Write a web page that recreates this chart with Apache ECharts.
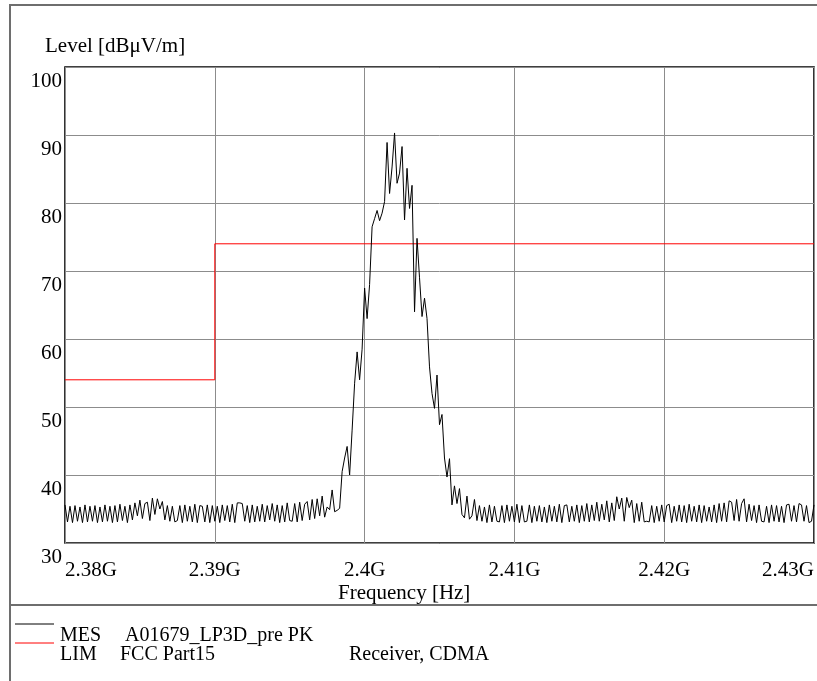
<!DOCTYPE html>
<html>
<head>
<meta charset="utf-8">
<script src="https://cdn.jsdelivr.net/npm/echarts@6/dist/echarts.min.js"></script>
<style>
html,body{margin:0;padding:0;background:#fff;}
#chart{width:817px;height:681px;}
</style>
</head>
<body>
<div id="chart"></div>
<script>
// Frequency grid of the sweep (GHz): start and step between measured points
var freqStartGHz = 2.38;
var freqStepGHz = 0.05 / 300;

// Measured level (dBuV/m), one value per sweep point
var mesLevels = [
  35.6, 33.1, 35.4, 33.0, 35.5, 33.2, 35.3, 33.0, 35.6, 33.1,
  35.4, 33.2, 35.5, 33.0, 35.3, 33.1, 35.6, 33.2, 35.4, 33.0,
  35.5, 33.1, 35.7, 33.3, 35.4, 33.0, 35.6, 33.4, 35.9, 34.0,
  36.3, 33.6, 35.8, 36.0, 33.3, 36.6, 34.2, 36.5, 35.0, 36.1,
  33.4, 35.5, 33.2, 35.4, 33.1, 33.3, 35.5, 33.0, 35.6, 33.2,
  35.4, 33.1, 35.7, 33.0, 35.5, 35.4, 33.1, 35.6, 33.0, 35.5,
  33.2, 35.4, 33.0, 35.6, 33.3, 35.5, 33.1, 35.7, 33.0, 35.9,
  35.9, 35.8, 33.2, 35.5, 33.0, 35.6, 33.1, 35.4, 33.2, 35.7,
  33.1, 35.5, 33.4, 35.8, 33.2, 35.6, 33.0, 35.5, 33.1, 35.9,
  33.3, 33.2, 35.8, 33.1, 36.0, 33.3, 35.7, 36.1, 33.4, 36.4,
  33.6, 36.5, 34.0, 36.9, 33.8,
  35.3, 34.9, 37.8, 34.6, 34.8, 35.1, 40.5, 42.5, 44.2, 40.0,
  46.6, 53.5, 58.1, 54.0, 58.5, 67.5, 63.0, 68.0, 76.5, 77.7,
  78.9, 77.4, 78.5, 80.2, 88.9, 81.4, 85.3, 90.3, 82.9, 84.4,
  88.3, 77.5, 85.1, 79.2, 82.6, 64.0, 74.8, 69.0, 63.3, 66.0,
  63.0, 55.9, 52.0, 49.8, 54.7, 47.4, 48.9, 42.5, 39.7, 42.4,
  35.6, 38.4, 35.8, 38.0, 34.2, 33.7, 36.9, 33.5, 34.0, 36.4,
  33.3,
  35.5, 33.2, 35.3, 33.0, 35.6, 33.1, 35.4, 33.2, 33.1, 35.5,
  33.0, 35.6, 33.2, 35.4, 33.1, 35.7, 33.0, 35.5, 33.1, 33.2,
  35.6, 33.0, 35.4, 33.2, 35.5, 33.1, 35.3, 33.0, 35.6, 33.2,
  35.4, 33.1, 35.7, 33.0, 35.5, 35.6, 33.1, 35.4, 33.2, 35.6,
  33.0, 35.5, 33.2, 35.8, 33.1, 35.6, 33.3, 36.0, 33.2, 35.7,
  33.4, 36.2, 33.1, 35.9, 33.3, 36.8, 35.0, 36.6, 33.2, 36.7,
  35.2, 36.3, 33.0, 35.8, 33.2, 36.0, 33.1, 33.2, 33.1, 35.5,
  33.0, 35.4, 33.2, 35.6, 33.1, 35.5, 35.7, 33.0, 35.4, 33.2,
  35.6, 33.1, 35.5, 33.0, 35.7, 33.2, 35.4, 33.1, 35.6, 33.0,
  35.5, 33.2, 35.3, 33.1, 35.6, 33.0, 35.8, 33.2, 35.9, 33.1,
  36.2, 36.0, 33.3, 36.4, 33.2, 35.8, 36.5, 33.1, 35.7, 33.3,
  35.5, 33.0, 35.6, 33.2, 33.1, 35.4, 33.0, 35.6, 33.2, 35.5,
  33.1, 35.4, 33.0, 35.6, 35.7, 33.2, 35.5, 33.1, 35.8, 35.6,
  33.2, 35.5, 33.0, 33.2, 35.6
];

// Limit line (FCC Part15): frequency (GHz) and level (dBuV/m)
var limFreqs = [2.38, 2.39, 2.39, 2.43];
var limLevels = [54, 54, 74, 74];

// Axis ticks
var xTickValues = [2.38, 2.39, 2.40, 2.41, 2.42, 2.43];
var xTickLabels = ['2.38G', '2.39G', '2.4G', '2.41G', '2.42G', '2.43G'];
var yTickLabels = ['30', '40', '50', '60', '70', '80', '90', '100'];

var FONT = 'Liberation Serif';

var mesData = mesLevels.map(function (v, i) { return [freqStartGHz + i * freqStepGHz, v]; });
var limData = limFreqs.map(function (f, i) { return [f, limLevels[i]]; });

function txt(x, y, s, size, lh) {
  return { type: 'text', x: x, y: y, style: { text: s, fontFamily: FONT, fontSize: size, lineHeight: lh, fill: '#000', verticalAlign: 'middle', align: 'left' } };
}

var chart = echarts.init(document.getElementById('chart'), null, { renderer: 'canvas' });
chart.setOption({
  animation: false,
  backgroundColor: '#fff',
  grid: { left: 65, right: 1, top: 67, bottom: 138, show: true, borderColor: '#000', borderWidth: 1.6 },
  xAxis: {
    type: 'value', min: 2.38, max: 2.43, interval: 0.01,
    axisLine: { show: false }, axisTick: { show: false },
    splitLine: { show: true, lineStyle: { color: '#8c8c8c', width: 1 } },
    axisLabel: {
      color: '#000', fontFamily: FONT, fontSize: 21, margin: 17,
      alignMinLabel: 'left', alignMaxLabel: 'right',
      formatter: function (v) {
        for (var k = 0; k < xTickValues.length; k++) {
          if (Math.abs(v - xTickValues[k]) < 1e-6) return xTickLabels[k];
        }
        return '';
      }
    }
  },
  yAxis: {
    type: 'value', min: 30, max: 100, interval: 10,
    axisLine: { show: false }, axisTick: { show: false },
    splitLine: { show: true, lineStyle: { color: '#8c8c8c', width: 1 } },
    axisLabel: {
      color: '#000', fontFamily: FONT, fontSize: 21, margin: 3,
      verticalAlign: 'top', padding: [4, 0, 0, 0],
      formatter: function (v) { return yTickLabels[Math.round((v - 30) / 10)]; }
    }
  },
  series: [
    { type: 'line', data: limData, showSymbol: false, lineStyle: { color: '#ff0000', width: 1 }, z: 2 },
    { type: 'line', data: mesData, showSymbol: false, lineStyle: { color: '#000', width: 1 }, z: 3 }
  ],
  graphic: [
    { type: 'polyline', shape: { points: [[10, 681], [10, 5], [817, 5]] }, style: { stroke: '#6e6e6e', lineWidth: 2, fill: null } },
    { type: 'line', shape: { x1: 10, y1: 605, x2: 817, y2: 605 }, style: { stroke: '#6e6e6e', lineWidth: 2 } },
    txt(45, 46, 'Level [dBμV/m]', 21, 22),
    txt(338, 593, 'Frequency [Hz]', 21, 22),
    { type: 'line', shape: { x1: 15, y1: 624, x2: 54, y2: 624 }, style: { stroke: '#000', lineWidth: 1 } },
    { type: 'line', shape: { x1: 15, y1: 643, x2: 54, y2: 643 }, style: { stroke: '#ff0000', lineWidth: 1 } },
    txt(60, 636, 'MES', 20, 17),
    txt(125, 636, 'A01679_LP3D_pre PK', 20, 17),
    txt(60, 655, 'LIM', 20, 17),
    txt(120, 655, 'FCC Part15', 20, 17),
    txt(349, 655, 'Receiver, CDMA', 20, 17)
  ]
});
</script>
</body>
</html>
